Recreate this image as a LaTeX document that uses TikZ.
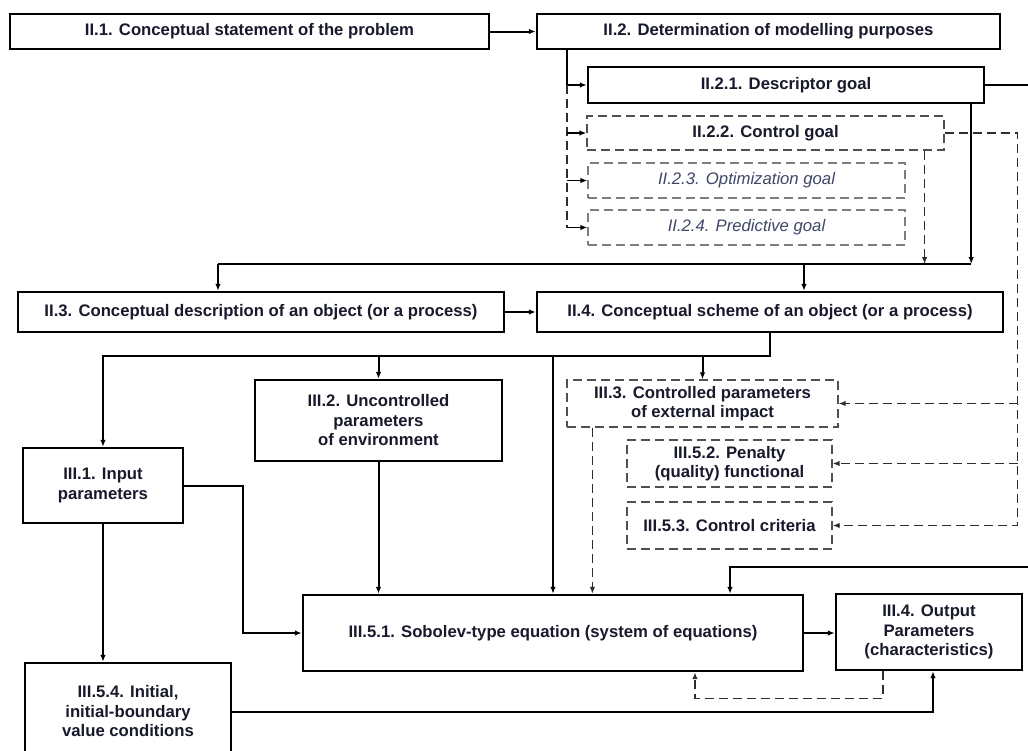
\documentclass[tikz,border=0pt]{standalone}
\usepackage{fontspec}
\setmainfont{Liberation Sans}
\usepackage{tikz}
\usetikzlibrary{arrows.meta}
\definecolor{inkblue}{RGB}{24,26,44}
\definecolor{goalgray}{RGB}{62,72,102}
\definecolor{dashgray}{RGB}{80,80,80}
\definecolor{lightdash}{RGB}{125,125,125}
\definecolor{wiregray}{RGB}{45,45,45}

\begin{document}
\begin{tikzpicture}[>={Latex[length=7pt,width=5.5pt]}, x=1pt, y=-1pt,
  stage/.style={draw=black, line width=2.4pt, align=center, text=inkblue,
    font=\fontsize{16.7}{19.5}\selectfont\bfseries, inner sep=0pt},
  option/.style={draw=dashgray, line width=1.2pt, dash pattern=on 9pt off 5pt,
    align=center, text=inkblue, font=\fontsize{16.7}{19.5}\selectfont\bfseries, inner sep=0pt},
  faint/.style={draw=lightdash, line width=1.2pt, dash pattern=on 9pt off 5pt,
    align=center, text=goalgray, font=\fontsize{16.7}{19.5}\selectfont\itshape, inner sep=0pt},
  wire/.style={line width=2pt},
  thinwire/.style={line width=1.6pt},
  dwire/.style={draw=wiregray, line width=1.4pt, dash pattern=on 9pt off 5pt}]
\useasboundingbox (0,0) rectangle (1028,750);
\fill[white] (0,0) rectangle (1028,750);

\node[stage, minimum width=479pt, minimum height=35pt] (p21) at (249.5,31.5)
  {II.1. Conceptual statement of the problem};
\node[stage, minimum width=463pt, minimum height=35pt] (p22) at (768.5,31.5)
  {II.2. Determination of modelling purposes};
\node[stage, minimum width=396pt, minimum height=36pt] (d221) at (786,85)
  {II.2.1. Descriptor goal};
\node[option, minimum width=357pt, minimum height=34pt] (d222) at (765.5,133)
  {II.2.2. Control goal};
\node[faint, minimum width=317pt, minimum height=35pt] (d223) at (746.5,180.5)
  {II.2.3. Optimization goal};
\node[faint, minimum width=317pt, minimum height=35pt] (d224) at (746.5,227.5)
  {II.2.4. Predictive goal};
\node[stage, minimum width=486pt, minimum height=40pt] (p23) at (261,312)
  {II.3. Conceptual description of an object (or a process)};
\node[stage, minimum width=466pt, minimum height=40pt] (p24) at (770,312)
  {II.4. Conceptual scheme of an object (or a process)};
\node[stage, minimum width=160pt, minimum height=75pt] (p31) at (103,485.5)
  {III.1. Input\\parameters};
\node[stage, minimum width=247pt, minimum height=81pt] (p32) at (378.5,420.5)
  {III.2. Uncontrolled\\parameters\\of environment};
\node[option, minimum width=271pt, minimum height=47pt] (p33) at (702.5,403.5)
  {III.3. Controlled parameters\\of external impact};
\node[option, minimum width=205pt, minimum height=47pt] (p352) at (729.5,463.5)
  {III.5.2. Penalty\\(quality) functional};
\node[option, minimum width=205pt, minimum height=47pt] (p353) at (729.5,525.5)
  {III.5.3. Control criteria};
\node[stage, minimum width=500pt, minimum height=76pt] (p351) at (553,633)
  {III.5.1. Sobolev-type equation (system of equations)};
\node[stage, minimum width=186pt, minimum height=76pt] (p34) at (929,632)
  {III.4. Output\\Parameters\\(characteristics)};
\node[stage, minimum width=206pt, minimum height=97pt] (p354) at (128,711.5)
  {III.5.4. Initial,\\initial-boundary\\value conditions};

\coordinate (trunk) at ([xshift=31pt]p22.south west);
\coordinate (goalbus) at (218,264);
\coordinate (rimtop) at (1028,85);
\coordinate (rimlow) at (1028,567);

\draw[wire,->] (p21) -- (p22);
\draw[thinwire,->] (trunk) |- (d221.west);
\draw[dwire] (trunk |- d221.west) -- (trunk |- d224.west);
\draw[thinwire,->] (trunk |- d222.west) -- (d222.west);
\draw[thinwire,->] (trunk |- d223.west) -- (d223.west);
\draw[thinwire,->] (trunk |- d224.west) -- (d224.west);
\draw[wire] (d221.east) -- (rimtop);

\draw[wire,->] ([xshift=-14pt]d221.south east) -- ([xshift=-14pt]d221.south east |- goalbus);
\draw[dwire,->] ([xshift=-20pt]d222.south east) -- ([xshift=-20pt]d222.south east |- goalbus);
\draw[wire] (goalbus) -- ([xshift=-14pt]d221.south east |- goalbus);
\draw[wire,->] (goalbus) -- (goalbus |- p23.north);
\draw[wire,->] ([xshift=34pt]p24.north |- goalbus) -- ([xshift=34pt]p24.north);
\draw[wire,->] (p23) -- (p24);

\path (p24.south) ++(0,23) coordinate (bus2);
\draw[wire,->] (p24.south) -- (bus2) -| (p31.north);
\draw[wire,->] (p32.north |- bus2) -- (p32.north);
\draw[wire,->] (p33.north |- bus2) -- (p33.north);
\draw[wire,->] (p351.north |- bus2) -- (p351.north);
\draw[wire,->] (p32.south) -- (p32.south |- p351.north);
\draw[dwire,->] ([xshift=26pt]p33.south west) -- ([xshift=26pt]p33.south west |- p351.north);

\draw[dwire,->] (d222.east) -- ++(73,0) coordinate (rail) |- (p353.east);
\draw[dwire,->] (rail |- p33.east) -- (p33.east);
\draw[dwire,->] (rail |- p352.east) -- (p352.east);

\draw[wire,->] (p31.east) -- ++(59,0) |- (p351.west);
\draw[wire,->] (p31.south) -- (p31.south |- p354.north);
\draw[wire,->] (p351.east) -- (p351.east -| p34.west);
\draw[wire,->] (p354.east) -| ([xshift=4pt]p34.south);
\draw[dwire,->] ([xshift=-46pt]p34.south) -- ++(0,27) -| ([xshift=142pt]p351.south);
\draw[wire,->] (rimlow) -| ([xshift=177pt]p351.north);
\end{tikzpicture}
\end{document}
